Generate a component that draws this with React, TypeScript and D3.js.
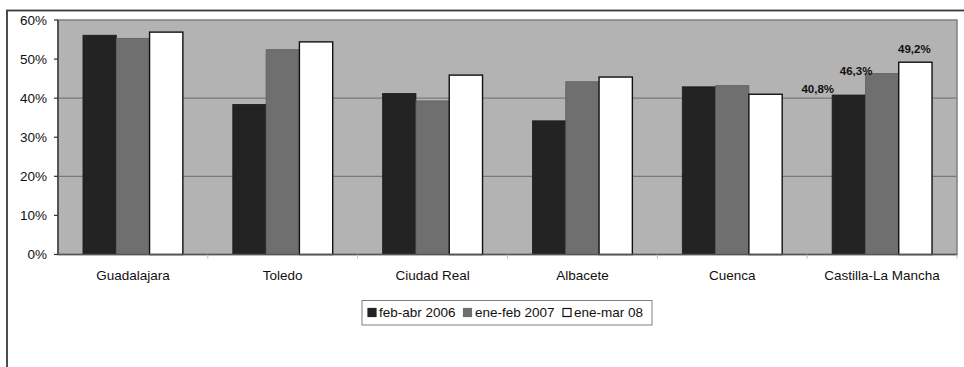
import React from "react";
import * as d3 from "d3";

const categories = ["Guadalajara", "Toledo", "Ciudad Real", "Albacete", "Cuenca", "Castilla-La Mancha"];
const seriesNames = ["feb-abr 2006", "ene-feb 2007", "ene-mar 08"];
const feb2006 = [56.1, 38.4, 41.2, 34.2, 42.9, 40.8];
const ene2007 = [55.3, 52.4, 39.3, 44.2, 43.2, 46.3];
const ene2008 = [56.9, 54.4, 45.9, 45.4, 41.0, 49.2];
const yTicks = [0, 10, 20, 30, 40, 50, 60];
const gridValues = [20, 40];
const dataLabels = ["40,8%", "46,3%", "49,2%"];
const labelledCategory = "Castilla-La Mancha";

const seriesValues = [feb2006, ene2007, ene2008];
const fills = ["#232323", "#6f6f6f", "#ffffff"];
const strokes = ["#1a1a1a", "#5e5e5e", "#111111"];
const labelOffsets = [
  { dx: -31, dy: -2 },
  { dx: -26, dy: 1.5 },
  { dx: -1, dy: -9 },
];

const FONT = "'Liberation Sans', Arial, sans-serif";

export default function App() {
  const W = 964;
  const H = 367;
  const plot = { left: 58, right: 957, top: 20, bottom: 254.5 };

  const x = d3.scaleBand<string>().domain(categories).range([plot.left, plot.right]).paddingInner(0).paddingOuter(0);
  const xs = d3.scaleBand<string>().domain(seriesNames).range([0, x.bandwidth()]).paddingInner(0).paddingOuter(0.75);
  const y = d3.scaleLinear().domain([0, 60]).range([plot.bottom, plot.top]);

  const legendItems = [
    { name: seriesNames[0], sq: 368, tx: 379 },
    { name: seriesNames[1], sq: 463.5, tx: 475 },
    { name: seriesNames[2], sq: 563, tx: 574 },
  ];

  return (
    <svg
      width={W}
      height={H}
      style={{ position: "absolute", left: 0, top: 0, display: "block", background: "#fff" }}
      fontFamily={FONT}
    >
      {/* outer chart border */}
      <rect x={7} y={10.5} width={W + 10} height={H + 10} fill="#fff" stroke="#3a3a3a" strokeWidth={1.8} />

      {/* plot area */}
      <rect x={plot.left} y={plot.top} width={plot.right - plot.left} height={plot.bottom - plot.top} fill="#b3b3b3" stroke="#808080" strokeWidth={1.5} />

      {gridValues.map((g) => (
        <line key={g} x1={plot.left} x2={plot.right} y1={y(g)} y2={y(g)} stroke="#7a7a7a" strokeWidth={1.2} />
      ))}

      {/* bars */}
      {categories.map((c, ci) =>
        seriesNames.map((s, si) => {
          const v = seriesValues[si][ci];
          const bx = (x(c) as number) + (xs(s) as number);
          return (
            <rect
              key={c + s}
              x={bx}
              y={y(v)}
              width={xs.bandwidth()}
              height={y(0) - y(v)}
              fill={fills[si]}
              stroke={strokes[si]}
              strokeWidth={si === 2 ? 1.4 : 0.8}
            />
          );
        })
      )}

      {/* data labels */}
      {seriesNames.map((s, si) => {
        const ci = categories.indexOf(labelledCategory);
        const v = seriesValues[si][ci];
        const cx = (x(labelledCategory) as number) + (xs(s) as number) + xs.bandwidth() / 2;
        return (
          <text
            key={"lbl" + s}
            x={cx + labelOffsets[si].dx}
            y={y(v) + labelOffsets[si].dy}
            textAnchor="middle"
            fontSize={11.5}
            fontWeight="bold"
            fill="#111"
          >
            {dataLabels[si]}
          </text>
        );
      })}

      {/* y axis */}
      <line x1={plot.left} x2={plot.left} y1={plot.top} y2={plot.bottom} stroke="#333" strokeWidth={1.3} />
      {yTicks.map((t) => (
        <g key={t}>
          <line x1={plot.left - 4} x2={plot.left} y1={y(t)} y2={y(t)} stroke="#333" strokeWidth={1.2} />
          <text x={47} y={y(t)} dy="0.36em" textAnchor="end" fontSize={13.5} fill="#111">
            {t + "%"}
          </text>
        </g>
      ))}

      {/* x axis */}
      <line x1={plot.left} x2={plot.right} y1={plot.bottom} y2={plot.bottom} stroke="#555" strokeWidth={1.3} />
      {categories.map((c, i) => (
        <g key={c}>
          {i > 0 && (
            <line x1={x(c) as number} x2={x(c) as number} y1={plot.bottom} y2={plot.bottom + 4} stroke="#bbb" strokeWidth={1} />
          )}
          <text x={(x(c) as number) + x.bandwidth() / 2} y={280} textAnchor="middle" fontSize={13.5} fill="#111">
            {c}
          </text>
        </g>
      ))}
      <line x1={plot.right} x2={plot.right} y1={plot.bottom} y2={plot.bottom + 4} stroke="#bbb" strokeWidth={1} />

      {/* legend */}
      <rect x={362} y={300.5} width={290} height={24.5} fill="#fff" stroke="#808080" strokeWidth={1} />
      {legendItems.map((it, i) => (
        <g key={it.name}>
          <rect x={it.sq} y={308.5} width={8} height={8} fill={fills[i]} stroke={i === 2 ? "#111" : fills[i]} strokeWidth={1.2} />
          <text x={it.tx} y={317} fontSize={13.5} fill="#111">
            {it.name}
          </text>
        </g>
      ))}
    </svg>
  );
}
